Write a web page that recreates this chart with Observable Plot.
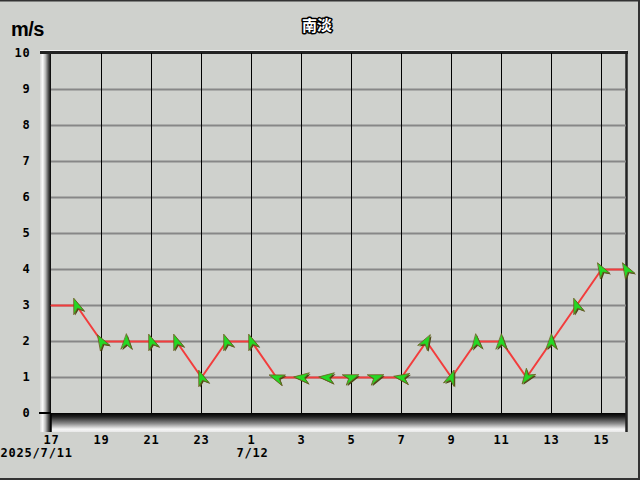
<!DOCTYPE html>
<html><head><meta charset="utf-8">
<script src="https://cdn.jsdelivr.net/npm/d3@7"></script>
<script src="https://cdn.jsdelivr.net/npm/@observablehq/plot@0.6"></script>
<style>
html,body{margin:0;padding:0;background:#cfd1cd;}
#wrap{position:relative;width:640px;height:480px;overflow:hidden;background:#cfd1cd;}
svg text{letter-spacing:0.8px;}
</style></head><body><div id="wrap"></div>
<script>
const hours = [17,18,19,20,21,22,23,0,1,2,3,4,5,6,7,8,9,10,11,12,13,14,15,16];
const speeds = [3,3,2,2,2,2,1,2,2,1,1,1,1,1,1,2,1,2,2,1,2,3,4,4];
const directions = [null,340,330,0,340,340,340,340,340,290,275,275,70,70,280,30,20,355,0,215,0,340,330,330];
const yTicks = [0,1,2,3,4,5,6,7,8,9,10];
const xTickHours = [17,19,21,23,1,3,5,7,9,11,13,15];
const dateLabels = ["2025/7/11","7/12"];
const dateHours = [17,1];
const titleText = "南淡";
const unitText = "m/s";

const data = hours.map((h,i)=>({i, h, speed: speeds[i], dir: directions[i]}));
const idx = h => hours.indexOf(h);
const xTicks = xTickHours.map(idx);

const arrowShape = {draw(context, l) {
  const w = l*0.36;
  context.moveTo(0,-l);
  context.lineTo(w,0);
  context.lineTo(0,-l*0.3);
  context.lineTo(-w,0);
  context.closePath();
}};

const plot = Plot.plot({
  width:640, height:480,
  marginLeft:51, marginRight:14, marginTop:53, marginBottom:67,
  style:{background:"transparent", fontFamily:"'DejaVu Sans Mono', monospace", fontSize:"12px", fontWeight:"bold", color:"#000"},
  x:{domain:[0,23], axis:null},
  y:{domain:[0,10], axis:null},
  marks:[
    Plot.ruleY(yTicks.filter(v=>v>0 && v<10), {stroke:"#878787", strokeWidth:2}),
    Plot.ruleX(xTicks.filter(v=>v>0), {stroke:"#000", strokeWidth:1}),
    Plot.axisY(yTicks, {tickSize:0, tickPadding:21, label:null, fill:"#000", fontWeight:"bold"}),
    Plot.axisX(xTicks, {tickSize:0, tickPadding:22, label:null, tickFormat:i=>String(hours[i]), fill:"#000", fontWeight:"bold"}),
    Plot.line(data, {x:"i", y:"speed", stroke:"#f23c3c", strokeWidth:2}),
    Plot.vector(data.filter(d=>d.dir!=null), {x:"i", y:"speed", rotate:"dir", length:15, shape:arrowShape, fill:"#4a4614", stroke:"none", dx:1.2, dy:1.2}),
    Plot.vector(data.filter(d=>d.dir!=null), {x:"i", y:"speed", rotate:"dir", length:15, shape:arrowShape, fill:"#24d824", stroke:"#6a6420", strokeWidth:0.8}),
    Plot.text([0], {x:()=>idx(dateHours[0]), text:()=>dateLabels[0], frameAnchor:"bottom", dy:43, dx:-51, textAnchor:"start", fill:"#000"}),
    Plot.text([1], {x:()=>idx(dateHours[1]), text:()=>dateLabels[1], frameAnchor:"bottom", dy:43, dx:1, textAnchor:"middle", fill:"#000"})
  ]
});
document.getElementById("wrap").appendChild(plot);

// decorative 3D frame, positioned from the scales
const svg = d3.select(plot);
const xs = plot.scale("x"), ys = plot.scale("y");
const x0 = xs.apply(0), x1 = xs.apply(23), y0 = ys.apply(0), y1 = ys.apply(10);
const defs = svg.insert("defs", ":first-child");
const gl = defs.append("linearGradient").attr("id","gl").attr("x1","0").attr("x2","1").attr("y1","0").attr("y2","0");
[[0,"#d8d8d8"],[0.25,"#fafafa"],[0.5,"#b8b8b8"],[0.75,"#555"],[1,"#000"]].forEach(([o,c])=>gl.append("stop").attr("offset",o).attr("stop-color",c));
const gb = defs.append("linearGradient").attr("id","gb").attr("x1","0").attr("x2","0").attr("y1","0").attr("y2","1");
[[0,"#000"],[0.2,"#222"],[0.55,"#8a8a8a"],[0.85,"#f6f6f6"],[1,"#e8e8e8"]].forEach(([o,c])=>gb.append("stop").attr("offset",o).attr("stop-color",c));
const deco = svg.insert("g", "defs + *");
deco.append("rect").attr("x",x0-11).attr("y",y0).attr("width",x1-x0+12).attr("height",19).attr("fill","url(#gb)");
deco.append("rect").attr("x",x0-11).attr("y",y1-1).attr("width",11).attr("height",y0-y1+20).attr("fill","url(#gl)");
deco.append("line").attr("x1",x0-11).attr("x2",x1+1).attr("y1",y1-2.5).attr("y2",y1-2.5).attr("stroke","#f0f0f0").attr("stroke-width",1);
deco.append("line").attr("x1",x0-11).attr("x2",x1+2).attr("y1",y1-0.5).attr("y2",y1-0.5).attr("stroke","#222").attr("stroke-width",3);
deco.append("line").attr("x1",x1+0.5).attr("x2",x1+0.5).attr("y1",y1-2).attr("y2",y0+19).attr("stroke","#222").attr("stroke-width",2.5);
deco.append("line").attr("x1",x0-12).attr("x2",x0).attr("y1",y0).attr("y2",y0).attr("stroke","#000").attr("stroke-width",2);
deco.append("line").attr("x1",x0).attr("x2",x0).attr("y1",y0).attr("y2",y0+19).attr("stroke","#000").attr("stroke-width",1.5);
// outer border
svg.append("line").attr("x1",0).attr("x2",640).attr("y1",0.5).attr("y2",0.5).attr("stroke","#333").attr("stroke-width",2);
svg.append("line").attr("x1",639).attr("x2",639).attr("y1",0).attr("y2",480).attr("stroke","#333").attr("stroke-width",2);
svg.append("line").attr("x1",0).attr("x2",640).attr("y1",479).attr("y2",479).attr("stroke","#333").attr("stroke-width",2);
// title and unit
svg.append("text").attr("x",317).attr("y",31).attr("text-anchor","middle")
  .style("font-family","'Noto Sans CJK JP', sans-serif").style("font-size","15px").style("font-weight","bold").style("letter-spacing","0")
  .attr("fill","#fff").attr("stroke","#000").attr("stroke-width",3).attr("paint-order","stroke").attr("stroke-linejoin","round").text(titleText);
svg.append("text").attr("x",11).attr("y",36).attr("text-anchor","start")
  .style("font-family","'Liberation Sans', Arial, sans-serif").style("font-size","20px").style("font-weight","bold").style("letter-spacing","-0.5px")
  .attr("fill","#000").text(unitText);
</script></body></html>
